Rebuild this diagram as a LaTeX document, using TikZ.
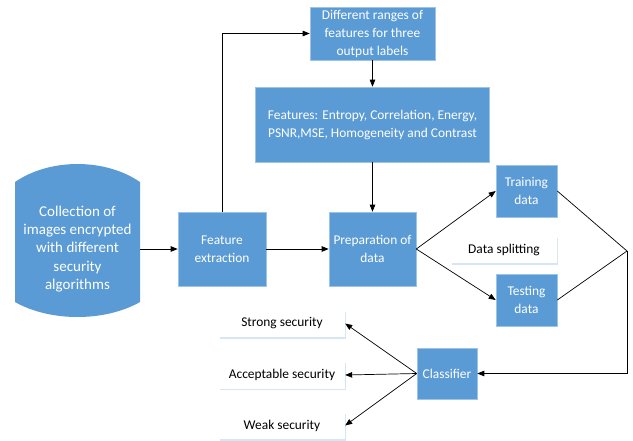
\documentclass[tikz,border=0pt]{standalone}
\usepackage{fontspec}
\setmainfont{Carlito}
\usetikzlibrary{arrows.meta,shadows}
\definecolor{boxblue}{HTML}{5B9BD5}
\begin{document}
\begin{tikzpicture}[x=1pt,y=-1pt,
  txt/.style={font=\fontsize{13.4}{18}\selectfont},
  bbox/.style={txt, draw=boxblue!60!white, fill=boxblue, text=white, align=center, inner sep=0pt, line width=0.6pt},
  wbox/.style={txt, fill=white, align=center, inner sep=0pt, minimum width=126pt, minimum height=27pt,
     drop shadow={shadow xshift=0.6pt, shadow yshift=-1.6pt, fill=boxblue!25, opacity=1}},
  arr/.style={-{Triangle[length=7pt,width=5.5pt]}, line width=0.7pt},
  ln/.style={line width=0.7pt}]
\useasboundingbox (0,0) rectangle (633,440);
% cylinder
\fill[boxblue] (15,182) .. controls (50,158) and (105,158) .. (140,182) -- (140,302)
  .. controls (105,322) and (50,322) .. (15,302) -- cycle;
\node[font=\fontsize{15}{18.3}\selectfont, text=white, align=center, minimum width=125pt, inner sep=0pt] (cyl) at (77.5,249)
  {Collection of\\images encrypted\\with different\\security\\algorithms};
\node[bbox, minimum width=88pt, minimum height=74pt] (fe) at (222,249) {Feature\\extraction};
\node[bbox, minimum width=87pt, minimum height=74pt] (prep) at (372.5,249) {Preparation of\\data};
\node[bbox, minimum width=125pt, minimum height=53pt] (dr) at (372.5,33.5) {Different ranges of\\features for three\\output labels};
\node[bbox, minimum width=234pt, minimum height=75pt] (feat) at (372.5,124.5) {Features: Entropy, Correlation, Energy,\\PSNR,MSE, Homogeneity and Contrast};
\node[bbox, minimum width=61pt, minimum height=52pt] (train) at (526.5,191) {Training\\data};
\node[bbox, minimum width=61pt, minimum height=52pt] (test) at (526.5,300) {Testing\\data};
\node[wbox, minimum width=106pt] (split) at (504,249.5) {Data splitting};
\node[bbox, minimum width=60pt, minimum height=51pt] (cls) at (447,373.5) {Classifier};
\node[wbox] (strong) at (282,323.5) {Strong security};
\node[wbox] (accept) at (282,375) {Acceptable security};
\node[wbox] (weak) at (282,425.5) {Weak security};
\coordinate (j) at (627,251);
% connectors
\draw[arr] (cyl.east) -- (fe.west);
\draw[arr] (fe.north) |- (dr.west);
\draw[arr] (dr.south) -- (feat.north);
\draw[arr] (feat.south) -- (prep.north);
\draw[arr] (fe.east) -- (prep.west);
\draw[arr] (prep.east) -- (train.west);
\draw[arr] (prep.east) -- (test.west);
\draw[ln] (train.east) -- (j) -- (test.east);
\draw[arr] (j) |- (cls.east);
\draw[arr] (cls.west) -- (strong.east);
\draw[arr] (cls.west) -- (accept.east);
\draw[arr] (cls.west) -- (weak.east);
\end{tikzpicture}
\end{document}
